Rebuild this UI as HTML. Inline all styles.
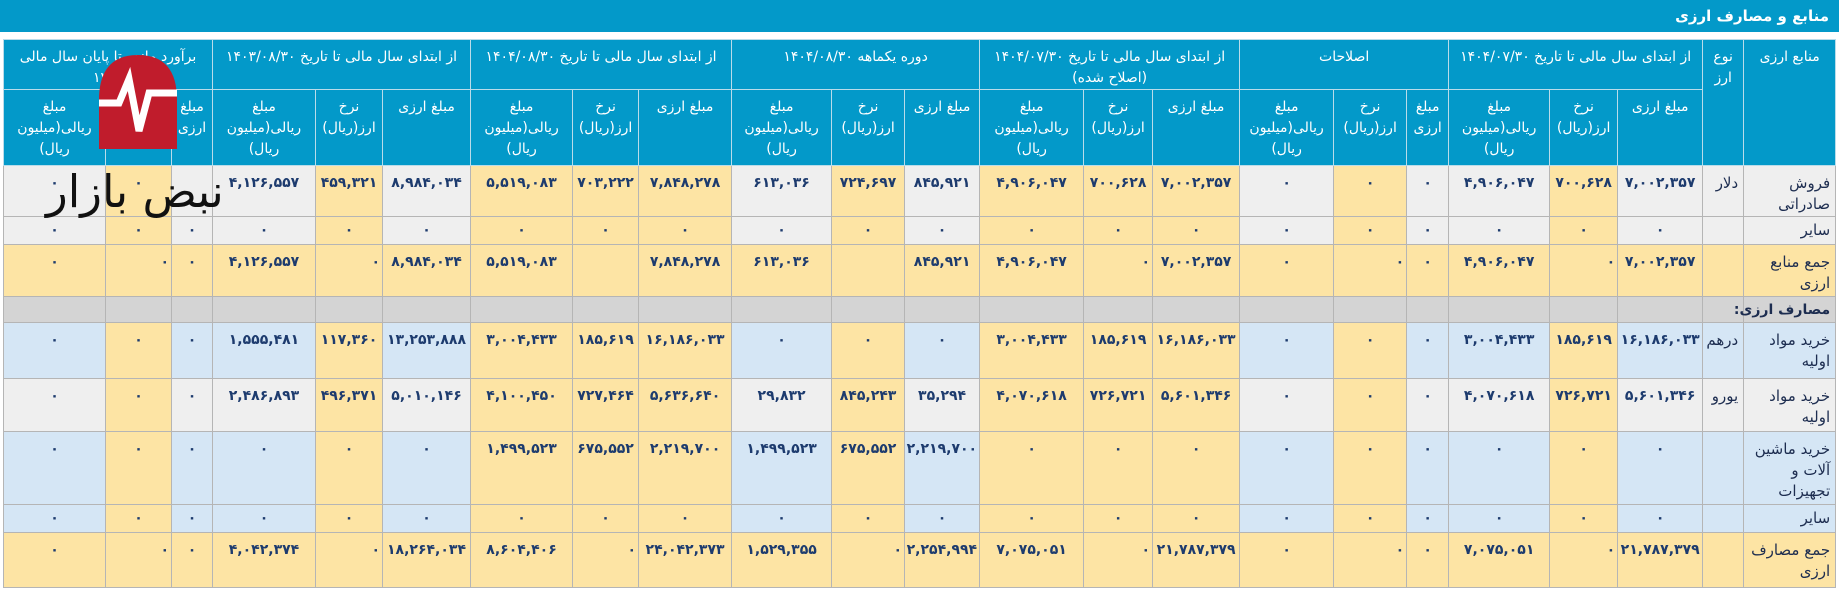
<!DOCTYPE html>
<html><head><meta charset="utf-8">
<style>
body{margin:0;background:#fff;width:1839px;height:592px;overflow:hidden;position:relative;font-family:"DejaVu Sans","Liberation Sans",sans-serif;}
.title{position:absolute;left:0;top:0;width:1839px;height:32px;background:#0399c9;color:#fff;font-weight:bold;font-size:15px;direction:rtl;text-align:right;box-sizing:border-box;padding:7px 10px 0 0;}
table{position:absolute;left:3px;top:39px;width:1832px;border-collapse:collapse;table-layout:fixed;}
td{border:1px solid #b5b5b5;vertical-align:top;direction:rtl;text-align:center;font-size:14px;line-height:20px;padding:7px 2px 0 2px;color:#1d3b6e;font-weight:bold;overflow:hidden;white-space:nowrap;letter-spacing:-0.3px;}
tr.h td{background:#0399c9;color:#fff;font-weight:normal;font-size:14px;border-color:#b9dcea;line-height:21px;letter-spacing:-0.2px;}
td.l{text-align:right;color:#1d2d50;font-weight:normal;font-size:15px;padding-right:5px;line-height:21px;}
.g td{background:#efefef}.b td{background:#d5e6f5}.y td{background:#fde4a4}
.g td.Y,.b td.Y{background:#fde4a4}
.s td{background:#d4d4d4}
td.r{text-align:right}
tr.t td{padding-top:3px}
.logo{position:absolute;left:99px;top:55px;width:78px;height:94px;}
.lt{position:absolute;left:46px;top:162px;font-size:45px;color:#111;font-family:"DejaVu Sans",sans-serif;direction:rtl;line-height:60px;}
</style></head><body>
<div class="title">منابع و مصارف ارزی</div>
<table>
<colgroup>
<col style="width:102px"><col style="width:66px"><col style="width:41px">
<col style="width:103px"><col style="width:67px"><col style="width:88px">
<col style="width:102px"><col style="width:66px"><col style="width:93px">
<col style="width:100px"><col style="width:73px"><col style="width:75px">
<col style="width:104px"><col style="width:69px"><col style="width:87px">
<col style="width:94px"><col style="width:73px"><col style="width:42px">
<col style="width:101px"><col style="width:68px"><col style="width:85px">
<col style="width:41px"><col style="width:92px">
</colgroup>
<tr class="h" style="height:46px">
<td colspan="3">برآورد مانده تا پایان سال مالی<br>۱۴۰۴</td>
<td colspan="3">از ابتدای سال مالی تا تاریخ ۱۴۰۳/۰۸/۳۰</td>
<td colspan="3">از ابتدای سال مالی تا تاریخ ۱۴۰۴/۰۸/۳۰</td>
<td colspan="3">دوره یکماهه ۱۴۰۴/۰۸/۳۰</td>
<td colspan="3">از ابتدای سال مالی تا تاریخ ۱۴۰۴/۰۷/۳۰<br>(اصلاح شده)</td>
<td colspan="3">اصلاحات</td>
<td colspan="3">از ابتدای سال مالی تا تاریخ ۱۴۰۴/۰۷/۳۰</td>
<td rowspan="2">نوع<br>ارز</td>
<td rowspan="2">منابع ارزی</td>
</tr>
<tr class="h" style="height:76px">
<td>مبلغ<br>ریالی(میلیون<br>ریال)</td><td>نرخ<br>ارز(ریال)</td><td>مبلغ<br>ارزی</td>
<td>مبلغ<br>ریالی(میلیون<br>ریال)</td><td>نرخ<br>ارز(ریال)</td><td>مبلغ ارزی</td>
<td>مبلغ<br>ریالی(میلیون<br>ریال)</td><td>نرخ<br>ارز(ریال)</td><td>مبلغ ارزی</td>
<td>مبلغ<br>ریالی(میلیون<br>ریال)</td><td>نرخ<br>ارز(ریال)</td><td>مبلغ ارزی</td>
<td>مبلغ<br>ریالی(میلیون<br>ریال)</td><td>نرخ<br>ارز(ریال)</td><td>مبلغ ارزی</td>
<td>مبلغ<br>ریالی(میلیون<br>ریال)</td><td>نرخ<br>ارز(ریال)</td><td>مبلغ<br>ارزی</td>
<td>مبلغ<br>ریالی(میلیون<br>ریال)</td><td>نرخ<br>ارز(ریال)</td><td>مبلغ ارزی</td>
</tr>
<tr class="g" style="height:51px">
<td>۰</td><td class="Y">۰</td><td></td>
<td>۴,۱۲۶,۵۵۷</td><td class="Y">۴۵۹,۳۲۱</td><td>۸,۹۸۴,۰۳۴</td>
<td class="Y">۵,۵۱۹,۰۸۳</td><td class="Y">۷۰۳,۲۲۲</td><td class="Y">۷,۸۴۸,۲۷۸</td>
<td>۶۱۳,۰۳۶</td><td class="Y">۷۲۴,۶۹۷</td><td>۸۴۵,۹۲۱</td>
<td class="Y">۴,۹۰۶,۰۴۷</td><td class="Y">۷۰۰,۶۲۸</td><td class="Y">۷,۰۰۲,۳۵۷</td>
<td>۰</td><td class="Y">۰</td><td>۰</td>
<td>۴,۹۰۶,۰۴۷</td><td class="Y">۷۰۰,۶۲۸</td><td>۷,۰۰۲,۳۵۷</td>
<td class="l">دلار</td><td class="l">فروش<br>صادراتی</td>
</tr>
<tr class="g t" style="height:28px">
<td>۰</td><td class="Y">۰</td><td>۰</td>
<td>۰</td><td class="Y">۰</td><td>۰</td>
<td class="Y">۰</td><td class="Y">۰</td><td class="Y">۰</td>
<td>۰</td><td class="Y">۰</td><td>۰</td>
<td class="Y">۰</td><td class="Y">۰</td><td class="Y">۰</td>
<td>۰</td><td class="Y">۰</td><td>۰</td>
<td>۰</td><td class="Y">۰</td><td>۰</td>
<td class="l"></td><td class="l">سایر</td>
</tr>
<tr class="y" style="height:52px">
<td>۰</td><td class="r">۰</td><td>۰</td>
<td>۴,۱۲۶,۵۵۷</td><td class="r">۰</td><td>۸,۹۸۴,۰۳۴</td>
<td>۵,۵۱۹,۰۸۳</td><td class="r"></td><td>۷,۸۴۸,۲۷۸</td>
<td>۶۱۳,۰۳۶</td><td class="r"></td><td>۸۴۵,۹۲۱</td>
<td>۴,۹۰۶,۰۴۷</td><td class="r">۰</td><td>۷,۰۰۲,۳۵۷</td>
<td>۰</td><td class="r">۰</td><td>۰</td>
<td>۴,۹۰۶,۰۴۷</td><td class="r">۰</td><td>۷,۰۰۲,۳۵۷</td>
<td class="l"></td><td class="l">جمع منابع<br>ارزی</td>
</tr>
<tr class="s t" style="height:26px">
<td></td><td></td><td></td><td></td><td></td><td></td><td></td><td></td><td></td><td></td><td></td><td></td><td></td><td></td><td></td><td></td><td></td><td></td><td></td><td></td><td></td><td></td>
<td class="l" style="font-weight:bold;overflow:visible;font-size:14px">مصارف ارزی:</td>
</tr>
<tr class="b" style="height:56px">
<td>۰</td><td class="Y">۰</td><td>۰</td>
<td>۱,۵۵۵,۴۸۱</td><td class="Y">۱۱۷,۳۶۰</td><td>۱۳,۲۵۳,۸۸۸</td>
<td class="Y">۳,۰۰۴,۴۳۳</td><td class="Y">۱۸۵,۶۱۹</td><td class="Y">۱۶,۱۸۶,۰۳۳</td>
<td>۰</td><td class="Y">۰</td><td>۰</td>
<td class="Y">۳,۰۰۴,۴۳۳</td><td class="Y">۱۸۵,۶۱۹</td><td class="Y">۱۶,۱۸۶,۰۳۳</td>
<td>۰</td><td class="Y">۰</td><td>۰</td>
<td>۳,۰۰۴,۴۳۳</td><td class="Y">۱۸۵,۶۱۹</td><td>۱۶,۱۸۶,۰۳۳</td>
<td class="l">درهم</td><td class="l">خرید مواد<br>اولیه</td>
</tr>
<tr class="g" style="height:53px">
<td>۰</td><td class="Y">۰</td><td>۰</td>
<td>۲,۴۸۶,۸۹۳</td><td class="Y">۴۹۶,۳۷۱</td><td>۵,۰۱۰,۱۴۶</td>
<td class="Y">۴,۱۰۰,۴۵۰</td><td class="Y">۷۲۷,۴۶۴</td><td class="Y">۵,۶۳۶,۶۴۰</td>
<td>۲۹,۸۳۲</td><td class="Y">۸۴۵,۲۴۳</td><td>۳۵,۲۹۴</td>
<td class="Y">۴,۰۷۰,۶۱۸</td><td class="Y">۷۲۶,۷۲۱</td><td class="Y">۵,۶۰۱,۳۴۶</td>
<td>۰</td><td class="Y">۰</td><td>۰</td>
<td>۴,۰۷۰,۶۱۸</td><td class="Y">۷۲۶,۷۲۱</td><td>۵,۶۰۱,۳۴۶</td>
<td class="l">یورو</td><td class="l">خرید مواد<br>اولیه</td>
</tr>
<tr class="b" style="height:73px">
<td>۰</td><td class="Y">۰</td><td>۰</td>
<td>۰</td><td class="Y">۰</td><td>۰</td>
<td class="Y">۱,۴۹۹,۵۲۳</td><td class="Y">۶۷۵,۵۵۲</td><td class="Y">۲,۲۱۹,۷۰۰</td>
<td>۱,۴۹۹,۵۲۳</td><td class="Y">۶۷۵,۵۵۲</td><td>۲,۲۱۹,۷۰۰</td>
<td class="Y">۰</td><td class="Y">۰</td><td class="Y">۰</td>
<td>۰</td><td class="Y">۰</td><td>۰</td>
<td>۰</td><td class="Y">۰</td><td>۰</td>
<td class="l"></td><td class="l">خرید ماشین<br>آلات و<br>تجهیزات</td>
</tr>
<tr class="b t" style="height:28px">
<td>۰</td><td class="Y">۰</td><td>۰</td>
<td>۰</td><td class="Y">۰</td><td>۰</td>
<td class="Y">۰</td><td class="Y">۰</td><td class="Y">۰</td>
<td>۰</td><td class="Y">۰</td><td>۰</td>
<td class="Y">۰</td><td class="Y">۰</td><td class="Y">۰</td>
<td>۰</td><td class="Y">۰</td><td>۰</td>
<td>۰</td><td class="Y">۰</td><td>۰</td>
<td class="l"></td><td class="l">سایر</td>
</tr>
<tr class="y" style="height:55px">
<td>۰</td><td class="r">۰</td><td>۰</td>
<td>۴,۰۴۲,۳۷۴</td><td class="r">۰</td><td>۱۸,۲۶۴,۰۳۴</td>
<td>۸,۶۰۴,۴۰۶</td><td class="r">۰</td><td>۲۴,۰۴۲,۳۷۳</td>
<td>۱,۵۲۹,۳۵۵</td><td class="r">۰</td><td>۲,۲۵۴,۹۹۴</td>
<td>۷,۰۷۵,۰۵۱</td><td class="r">۰</td><td>۲۱,۷۸۷,۳۷۹</td>
<td>۰</td><td class="r">۰</td><td>۰</td>
<td>۷,۰۷۵,۰۵۱</td><td class="r">۰</td><td>۲۱,۷۸۷,۳۷۹</td>
<td class="l"></td><td class="l">جمع مصارف<br>ارزی</td>
</tr>
</table>
<svg class="logo" viewBox="0 0 78 94"><path d="M0 94 L0 45 Q0 0 39 0 Q78 0 78 45 L78 94 Z" fill="#c01c2c"/><polyline points="0,48 20,48 30,24 40,76 50,38 78,38" fill="none" stroke="#fff" stroke-width="7"/></svg>
<div class="lt">نبض بازار</div>
</body></html>
